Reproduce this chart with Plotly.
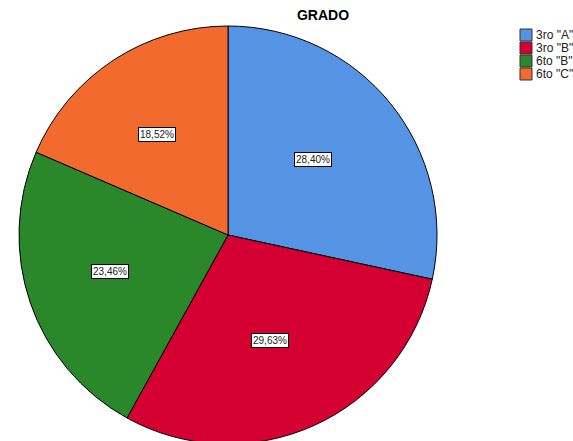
import math
import plotly.graph_objects as go

categories = ['3ro "A"', '3ro "B"', '6to "B"', '6to "C"']
counts = [23, 24, 19, 15]
colors = ["#5594E4", "#D40032", "#2A882A", "#F26A2D"]

W, H = 573, 452  # figure taller than the 441 px window; the overflow is hidden
cx, cy, R = 228, 235, 209  # pie centre / radius in pixels (from top-left)

dom_x = [(cx - R) / W, (cx + R) / W]
dom_y = [(H - cy - R) / H, (H - cy + R) / H]

fig = go.Figure(go.Pie(
    labels=categories,
    values=counts,
    sort=False,
    direction="clockwise",
    rotation=0,
    marker=dict(colors=colors, line=dict(color="#000000", width=1)),
    textinfo="none",
    hoverinfo="label+percent",
    domain=dict(x=dom_x, y=dom_y),
    showlegend=False,
))

FONT = "Arial, Liberation Sans, sans-serif"

# percentage labels in white boxes, at each slice's mid-angle
total = sum(counts)
lcx, lcy, lr = cx - 6.5, cy - 1.5, 118
cum = 0
annotations = []
for c in counts:
    frac = c / total
    mid = (cum + frac / 2) * 2 * math.pi
    cum += frac
    px = lcx + lr * math.sin(mid)
    py = lcy - lr * math.cos(mid)
    pct = f"{frac * 100:.2f}%".replace(".", ",")
    annotations.append(dict(
        x=px / W, y=1 - py / H, xref="paper", yref="paper",
        xanchor="center", yanchor="middle",
        text=pct, showarrow=False,
        font=dict(family=FONT, size=10, color="#222222"),
        bgcolor="#FFFFFF", bordercolor="#000000", borderwidth=1, borderpad=1,
    ))

# legend (square swatches + labels) at top right
shapes = []
lx0, ly0, sq, step = 520, 29, 12, 13
for i, (cat, col) in enumerate(zip(categories, colors)):
    top = ly0 + i * step
    shapes.append(dict(
        type="rect", xref="paper", yref="paper",
        x0=lx0 / W, x1=(lx0 + sq) / W, y0=1 - (top + sq) / H, y1=1 - top / H,
        fillcolor=col, line=dict(color="#333333", width=1),
    ))
    annotations.append(dict(
        x=(lx0 + sq + 1.5) / W, y=1 - (top + sq / 2) / H, xref="paper", yref="paper",
        xanchor="left", yanchor="middle", text=cat, showarrow=False,
        font=dict(family=FONT, size=12, color="#222222"),
    ))

fig.update_layout(
    width=W, height=H,
    margin=dict(l=0, r=0, t=0, b=0),
    paper_bgcolor="#FFFFFF",
    plot_bgcolor="#FFFFFF",
    title=dict(text="<b>GRADO</b>", x=323 / W, xanchor="center", y=1 - 15 / H, yanchor="middle",
               font=dict(family=FONT, size=14, color="#000000")),
    annotations=annotations,
    shapes=shapes,
)

fig.write_html(
    "out.html",
    config={"displayModeBar": False},
    post_script="document.body.style.margin='0';document.body.style.overflow='hidden';",
)
